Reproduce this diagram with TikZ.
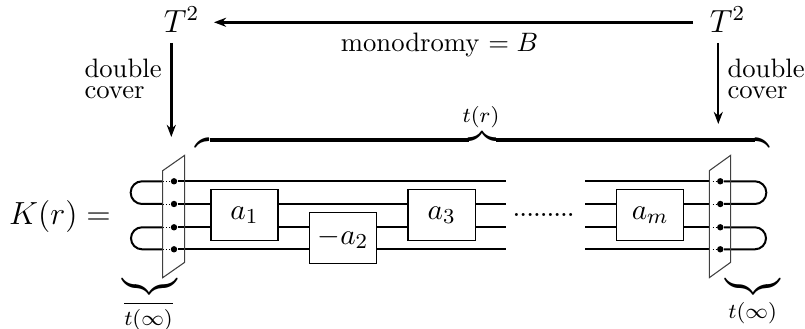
\documentclass[tikz,border=0pt]{standalone}
\usepackage{amsmath}
\usepackage{tikz}
\usetikzlibrary{arrows.meta, positioning}

\begin{document}
\begin{tikzpicture}[
    x=0.375pt, y=-0.375pt,
    tangle/.style={rectangle, draw, line width=0.5pt, fill=white, minimum width=25.2pt, minimum height=18.9pt, inner sep=0pt, font=\fontsize{11}{13}\selectfont},
    dot/.style={circle, fill=black, inner sep=0pt, minimum size=2.4pt},
    strand/.style={line width=0.75pt},
    hidden/.style={line width=0.2pt, densely dotted},
    plane/.style={line width=0.4pt, draw=black!75},
    arrow/.style={-{Stealth[length=1.6mm, width=1.2mm]}, line width=1pt},
    torus/.style={font=\large, inner sep=0pt},
    lbl/.style={align=left, inner sep=0pt, font=\normalsize},
]
\useasboundingbox (0,0) rectangle (805,329);

% Top row
\node[torus] (tl) at (181.5,19.5) {$T^2$};
\node[torus] (tr) at (727.5,19.5) {$T^2$};
\coordinate (ha) at (693,22.3);
\coordinate (hb) at (214,22.3);
\draw[arrow] (ha) -- (hb);
\node[font=\normalsize, inner sep=0pt] (mono) at (439.5,45) {monodromy $=B$};

% Double covers
\coordinate (dla) at (171.3,43);
\coordinate (dlb) at (171.3,137);
\coordinate (dra) at (718.3,43);
\coordinate (drb) at (718.3,124);
\draw[arrow] (dla) -- (dlb);
\draw[arrow, line width=0.7pt] (dra) -- (drb);
\node[lbl, anchor=north west] (cl) at (84,58) {double\\[-4pt]cover};
\node[lbl, anchor=north west] (cr) at (727,58) {double\\[-4pt]cover};

% Strands, left end
\node[dot] (l1) at (174,181.3) {};
\node[dot] (l2) at (174,204) {};
\node[dot] (l3) at (174,227.3) {};
\node[dot] (l4) at (174,249.3) {};
\coordinate (pl1) at (162.7,181.3);
\coordinate (pl2) at (162.7,204);
\coordinate (pl3) at (162.7,227.3);
\coordinate (pl4) at (162.7,249.3);
\coordinate (e1) at (506,181.3);
\coordinate (e2) at (506,204);
\coordinate (e3) at (506,227.3);
\coordinate (e4) at (506,249.3);

% Strands, right end
\node[dot] (r1) at (720.3,181.3) {};
\node[dot] (r2) at (720.3,204) {};
\node[dot] (r3) at (720.3,227.3) {};
\node[dot] (r4) at (720.3,249.3) {};
\coordinate (pr1) at (709.3,181.3);
\coordinate (pr2) at (709.3,204);
\coordinate (pr3) at (709.3,227.3);
\coordinate (pr4) at (709.3,249.3);
\coordinate (s1) at (585.3,181.3);
\coordinate (s2) at (585.3,204);
\coordinate (s3) at (585.3,227.3);
\coordinate (s4) at (585.3,249.3);

\draw[strand] (l1) -- (e1);
\draw[strand] (l2) -- (e2);
\draw[strand] (l3) -- (e3);
\draw[strand] (l4) -- (e4);
\draw[strand] (s1) -- (pr1);
\draw[strand] (s2) -- (pr2);
\draw[strand] (s3) -- (pr3);
\draw[strand] (s4) -- (pr4);

% Behind the planes
\draw[hidden] (pl1) -- (l1);
\draw[hidden] (pl2) -- (l2);
\draw[hidden] (pl3) -- (l3);
\draw[hidden] (pl4) -- (l4);
\draw[hidden] (pr1) -- (r1);
\draw[hidden] (pr2) -- (r2);
\draw[hidden] (pr3) -- (r3);
\draw[hidden] (pr4) -- (r4);

% Caps
\draw[strand] (pl1) -- (142,181.3) arc[start angle=90, end angle=270, radius=11.35*0.375pt] -- (pl2);
\draw[strand] (pl3) -- (142,227.3) arc[start angle=90, end angle=270, radius=11*0.375pt] -- (pl4);
\draw[strand] (r1) -- (755,181.3) arc[start angle=90, end angle=-90, radius=11.35*0.375pt] -- (r2);
\draw[strand] (r3) -- (755,227.3) arc[start angle=90, end angle=-90, radius=11*0.375pt] -- (r4);

% Planes
\draw[plane] (162.7,170.7) -- (184.7,155.3) -- (184.7,262.3) -- (162.7,277.7) -- cycle;
\draw[plane] (709.3,170.7) -- (730.7,155.3) -- (730.7,262.3) -- (709.3,277.7) -- cycle;

% Tangles
\node[tangle] (a1) at (244.5,215) {$a_1$};
\node[tangle] (a2) at (343,238) {$-a_2$};
\node[tangle] (a3) at (441.7,215) {$a_3$};
\node[tangle] (am) at (650.2,215) {$a_m$};
\node[font=\scriptsize\bfseries, inner sep=0pt] (gap) at (543.7,214.5) {.........};

% Left side and braces
\node[font=\large, inner sep=0pt] (knot) at (60,217) {$K(r)=$};
\node[inner sep=0pt] (bt) at (482.5,140) {\scalebox{1.15}{$\overbrace{\hspace{187pt}}$}};
\node[font=\footnotesize, inner sep=0pt] (tt) at (481,117.5) {$t(r)$};
\node[inner sep=0pt] (bl) at (149.7,287) {\scalebox{1.15}{$\underbrace{\hspace{17pt}}$}};
\node[inner sep=0pt] (br) at (753,287) {\scalebox{1.15}{$\underbrace{\hspace{17pt}}$}};
\node[font=\footnotesize, inner sep=0pt] (il) at (148.5,316) {$\fontdimen8\textfont3=0.7pt\overline{t(\infty)}$};
\node[font=\footnotesize, inner sep=0pt] (ir) at (752.7,313) {$t(\infty)$};
\end{tikzpicture}
\end{document}
